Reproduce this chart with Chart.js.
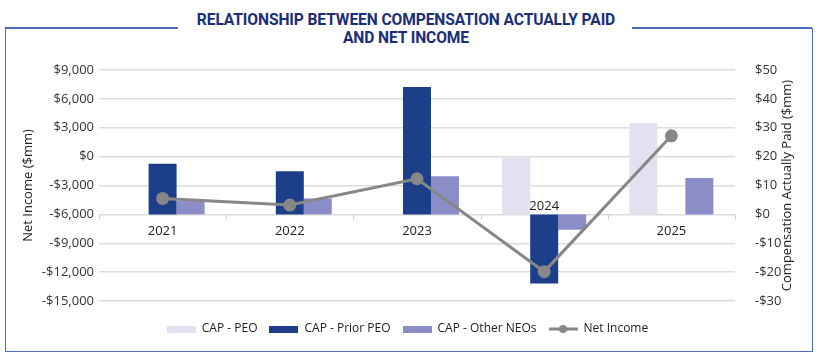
<!DOCTYPE html>
<html lang="en">
  <head>
    <meta charset="UTF-8" />
    <title>CAP vs Net Income</title>
    <script src="https://cdn.jsdelivr.net/npm/chart.js"></script>
    <style>
      body {
        margin: 0;
        background: #fff;
        font-family: "Open Sans", sans-serif;
      }
      .wrap {
        position: relative;
        width: 820px;
        height: 360px;
      }
      .frame {
        position: absolute;
        left: 5px;
        top: 28px;
        width: 806px;
        height: 323px;
        border: 1.5px solid #4b6cc1;
        border-top: none;
      }
      .seg {
        position: absolute;
        top: 27px;
        height: 1.5px;
        background: #4b6cc1;
      }
      .title {
        position: absolute;
        left: 180px;
        width: 452px;
        top: 11px;
        text-align: center;
        font-family: Roboto, sans-serif;
        font-weight: 700;
        font-size: 15.6px;
        line-height: 18px;
        letter-spacing: -0.1px;
        color: #1a2e7a;
      }
      canvas {
        position: absolute;
        left: 0;
        top: 0;
      }
    </style>
  </head>
  <body>
    <div class="wrap">
      <div class="frame"></div>
      <div class="seg" style="left: 5px; width: 173px"></div>
      <div class="seg" style="left: 632px; width: 180px"></div>
      <div class="title">RELATIONSHIP BETWEEN COMPENSATION ACTUALLY PAID<br />AND NET INCOME</div>
      <canvas id="myChart" width="820" height="360"></canvas>
    </div>

    <script>
      // data
      const years = ["2021", "2022", "2023", "2024", "2025"];
      const capPeo = [null, null, null, 19.6, 31.6];
      const capPriorPeo = [17.5, 14.9, 44.1, -23.9, null];
      const capOtherNeos = [4.6, 5.5, 13.2, -5.3, 12.6];
      const netIncome = [-4340, -5030, -2300, -11950, 2160];

      const fontName = "'Open Sans', sans-serif";

      function money(v) {
        const s = "$" + Math.abs(v).toLocaleString("en-US");
        return v < 0 ? "-" + s : s;
      }

      // legend swatch drawn as a small canvas
      function swatch(color, isLine) {
        const c = document.createElement("canvas");
        c.width = 29;
        c.height = isLine ? 10 : 7;
        const g = c.getContext("2d");
        if (isLine) {
          g.strokeStyle = color;
          g.lineWidth = 3;
          g.beginPath();
          g.moveTo(0, 5);
          g.lineTo(29, 5);
          g.stroke();
          g.fillStyle = color;
          g.beginPath();
          g.arc(14.5, 5, 4, 0, Math.PI * 2);
          g.fill();
        } else {
          g.fillStyle = color;
          g.fillRect(0, 0, 29, 7);
        }
        return c;
      }

      // year labels sitting on the $0 CAP line + small ticks, right axis title
      const yearLabels = {
        id: "yearLabels",
        afterDatasetsDraw(chart) {
          const ctx = chart.ctx;
          const xs = chart.scales.x;
          const y1 = chart.scales.y1;
          const area = chart.chartArea;
          const zero = y1.getPixelForValue(0);
          ctx.save();
          ctx.strokeStyle = "#cfcfcf";
          ctx.lineWidth = 1;
          const step = (area.right - area.left) / years.length;
          for (let i = 0; i <= years.length; i++) {
            const x = Math.round(area.left + step * i) + 0.5;
            ctx.beginPath();
            ctx.moveTo(x, zero);
            ctx.lineTo(x, zero + 5);
            ctx.stroke();
          }
          ctx.fillStyle = "#222";
          ctx.font = "13px " + fontName;
          ctx.textAlign = "center";
          ctx.textBaseline = "middle";
          years.forEach((yr, i) => {
            const x = xs.getPixelForValue(i);
            const vals = [capPeo[i], capPriorPeo[i], capOtherNeos[i]].filter((v) => v !== null);
            const below = Math.min(...vals) >= 0;
            ctx.fillText(yr, x, below ? zero + 17 : zero - 8);
          });
          // right title reads bottom to top like the left one
          ctx.translate(y1.right - 12, (area.top + area.bottom) / 2);
          ctx.rotate(-Math.PI / 2);
          ctx.fillText("Compensation Actually Paid ($mm)", 0, 0);
          ctx.restore();
        },
      };

      const ctx = document.getElementById("myChart");
      new Chart(ctx, {
        data: {
          labels: years,
          datasets: [
            {
              type: "bar",
              label: "CAP - PEO",
              data: capPeo,
              backgroundColor: "#e1e1f0",
              yAxisID: "y1",
              order: 1,
            },
            {
              type: "bar",
              label: "CAP - Prior PEO",
              data: capPriorPeo,
              backgroundColor: "#1d3f8a",
              yAxisID: "y1",
              order: 1,
            },
            {
              type: "bar",
              label: "CAP - Other NEOs",
              data: capOtherNeos,
              backgroundColor: "#8a8dc8",
              yAxisID: "y1",
              order: 1,
            },
            {
              type: "line",
              label: "Net Income",
              data: netIncome,
              borderColor: "#878787",
              backgroundColor: "#878787",
              borderWidth: 3,
              pointRadius: 5,
              pointHoverRadius: 5,
              yAxisID: "y",
              order: 0,
            },
          ],
        },
        options: {
          responsive: false,
          animation: false,
          events: [],
          layout: { padding: { left: 16, right: 21, top: 70, bottom: 15 } },
          datasets: {
            bar: { categoryPercentage: 0.66, barPercentage: 1 },
          },
          scales: {
            x: {
              ticks: { display: false },
              grid: { display: false },
              border: { display: false },
              afterFit: (s) => {
                s.height = 10;
              },
            },
            y: {
              position: "left",
              min: -15000,
              max: 9000,
              ticks: {
                stepSize: 3000,
                padding: 5,
                color: "#333",
                font: { family: fontName, size: 13 },
                callback: (v) => money(v),
              },
              grid: { color: "#dcdcdc", lineWidth: 1.5, drawTicks: false },
              border: { display: false },
              title: {
                display: true,
                text: "Net Income ($mm)",
                color: "#222",
                font: { family: fontName, size: 13 },
              },
              afterFit: (s) => {
                s.width = 83;
              },
            },
            y1: {
              position: "right",
              min: -30,
              max: 50,
              ticks: {
                stepSize: 10,
                padding: 12,
                color: "#333",
                font: { family: fontName, size: 13 },
                callback: (v) => money(v),
              },
              grid: { display: false },
              border: { display: false },
              afterFit: (s) => {
                s.width = 64;
              },
            },
          },
          plugins: {
            tooltip: { enabled: false },
            legend: {
              position: "bottom",
              labels: {
                usePointStyle: true,
                pointStyleWidth: 29,
                padding: 12,
                color: "#222",
                font: { family: fontName, size: 12 },
                generateLabels: (chart) =>
                  chart.data.datasets.map((ds, i) => ({
                    text: ds.label,
                    pointStyle: swatch(ds.backgroundColor, ds.type === "line"),
                    datasetIndex: i,
                    hidden: false,
                    lineWidth: 0,
                    strokeStyle: "transparent",
                    fillStyle: ds.backgroundColor,
                    fontColor: "#222",
                  })),
              },
            },
          },
        },
        plugins: [yearLabels],
      });
    </script>
  </body>
</html>
